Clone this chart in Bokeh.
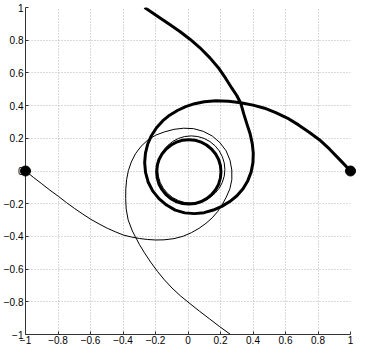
import numpy as np
from bokeh.plotting import figure
from bokeh.models import FixedTicker
from bokeh.embed import file_html
from bokeh.resources import INLINE

# tick values and labels
tick_values = [-1, -0.8, -0.6, -0.4, -0.2, 0, 0.2, 0.4, 0.6, 0.8, 1]
tick_labels = ["−1", "−0.8", "−0.6", "−0.4", "−0.2", "0", "0.2", "0.4", "0.6", "0.8", "1"]

# ---- thick trajectory starting at (1, 0) ----
# incoming arc (x, y)
thick_in_x = [1.0, 0.935, 0.870, 0.81, 0.750, 0.68, 0.611, 0.54, 0.471, 0.40, 0.325, 0.25, 0.172]
thick_in_y = [0.0, 0.068, 0.135, 0.19, 0.234, 0.282, 0.324, 0.357, 0.384, 0.403, 0.418, 0.427, 0.429]
# big loop, read as angle (deg) / distance from the loop centre
thick_loop_centre = (0.07, 0.08)
thick_loop_deg = [85, 95, 105, 115, 125, 135, 145, 155, 165, 175, 185, 195, 205, 215, 225,
                  235, 245, 255, 265, 275, 285, 295, 305, 315, 325, 335, 345, 355, 365, 375,
                  385, 395, 405]
thick_loop_r = [0.345, 0.333, 0.325, 0.320, 0.319, 0.320, 0.322, 0.325, 0.329, 0.333, 0.338,
                0.343, 0.348, 0.351, 0.352, 0.352, 0.352, 0.348, 0.342, 0.336, 0.330, 0.327,
                0.326, 0.327, 0.328, 0.329, 0.330, 0.331, 0.333, 0.337, 0.345, 0.358, 0.385]
# outgoing arc to the top edge
thick_out_x = [0.325, 0.30, 0.271, 0.232, 0.192, 0.135, 0.072, 0.012, -0.048, -0.11, -0.19, -0.267]
thick_out_y = [0.414, 0.462, 0.505, 0.566, 0.625, 0.692, 0.755, 0.806, 0.852, 0.894, 0.948, 1.0]

# ---- thin trajectory starting at (-1, 0) ----
thin_in_x = [-1.0, -0.95, -0.9, -0.85, -0.796, -0.747, -0.697, -0.647, -0.597, -0.547, -0.497,
             -0.447, -0.397, -0.347, -0.298, -0.248, -0.198]
thin_in_y = [0.0, -0.04, -0.078, -0.117, -0.156, -0.194, -0.23, -0.264, -0.296, -0.324, -0.35,
             -0.372, -0.392, -0.404, -0.413, -0.419, -0.422]
thin_loop_centre = (-0.057, -0.081)
thin_loop_deg = [255, 265, 275, 285, 295, 305, 315, 325, 335, 345, 355, 365, 375, 385, 395, 405,
                 415, 425, 435, 445, 455, 465, 475, 485, 495, 505, 515, 525, 535, 545, 555, 565,
                 575, 585]
thin_loop_r = [0.352, 0.334, 0.319, 0.306, 0.297, 0.292, 0.291, 0.292, 0.295, 0.303, 0.316,
               0.328, 0.338, 0.348, 0.356, 0.359, 0.360, 0.357, 0.352, 0.344, 0.337, 0.332,
               0.332, 0.331, 0.328, 0.325, 0.322, 0.321, 0.322, 0.327, 0.338, 0.357, 0.380,
               0.404]
thin_out_x = [-0.325, -0.298, -0.268, -0.23, -0.188, -0.145, -0.098, -0.045, 0.012, 0.07, 0.132,
              0.195, 0.262]
thin_out_y = [-0.40, -0.451, -0.500, -0.557, -0.614, -0.666, -0.716, -0.765, -0.811, -0.857,
              -0.904, -0.952, -1.0]

# inner closed orbits (centre x, centre y, radius)
orbit_thick = (0.005, -0.005, 0.198)
orbit_thin = (0.02, 0.009, 0.207)

# start points
start_x = [1.0, -1.0]
start_y = [0.0, 0.0]


def trajectory(in_x, in_y, centre, deg, r, out_x, out_y):
    a = np.radians(deg)
    lx = centre[0] + np.array(r) * np.cos(a)
    ly = centre[1] + np.array(r) * np.sin(a)
    xs = list(in_x) + list(lx) + list(out_x)
    ys = list(in_y) + list(ly) + list(out_y)
    return xs, ys


tx, ty = trajectory(thick_in_x, thick_in_y, thick_loop_centre, thick_loop_deg, thick_loop_r,
                    thick_out_x, thick_out_y)
nx, ny = trajectory(thin_in_x, thin_in_y, thin_loop_centre, thin_loop_deg, thin_loop_r,
                    thin_out_x, thin_out_y)

p = figure(width=357, height=346, x_range=(-1, 1), y_range=(-1, 1),
           output_backend="svg", toolbar_location=None,
           min_border_left=22, min_border_right=7, min_border_top=7, min_border_bottom=12)
p.outline_line_color = None
p.background_fill_color = "white"
p.border_fill_color = "white"

for ax in (p.xaxis[0], p.yaxis[0]):
    ax.ticker = FixedTicker(ticks=tick_values)
    ax.major_label_overrides = dict(zip(tick_values, tick_labels))
    ax.axis_line_color = "#333333"
    ax.major_tick_line_color = "#333333"
    ax.major_tick_in = 3
    ax.major_tick_out = 0
    ax.minor_tick_line_color = None
    ax.major_label_text_font = "Liberation Sans"
    ax.major_label_text_font_size = "10px"
    ax.major_label_text_color = "black"
p.yaxis[0].major_label_standoff = 2
p.xaxis[0].major_label_standoff = 1

for g in (p.xgrid[0], p.ygrid[0]):
    g.ticker = FixedTicker(ticks=tick_values)
    g.grid_line_color = "#b4b4b4"
    g.grid_line_dash = "1 2"
    g.grid_line_width = 1

p.line(nx, ny, line_color="black", line_width=1, line_join="round")
p.circle(x=[orbit_thin[0]], y=[orbit_thin[1]], radius=orbit_thin[2],
         fill_color=None, line_color="black", line_width=1)
p.circle(x=[orbit_thick[0]], y=[orbit_thick[1]], radius=orbit_thick[2],
         fill_color=None, line_color="black", line_width=3)
p.line(tx, ty, line_color="black", line_width=3, line_join="round")

dots = p.scatter(start_x, start_y, size=10, marker="circle",
                 fill_color="black", line_color="black")
dots.level = "overlay"

open("out.html", "w").write(file_html(p, INLINE))
